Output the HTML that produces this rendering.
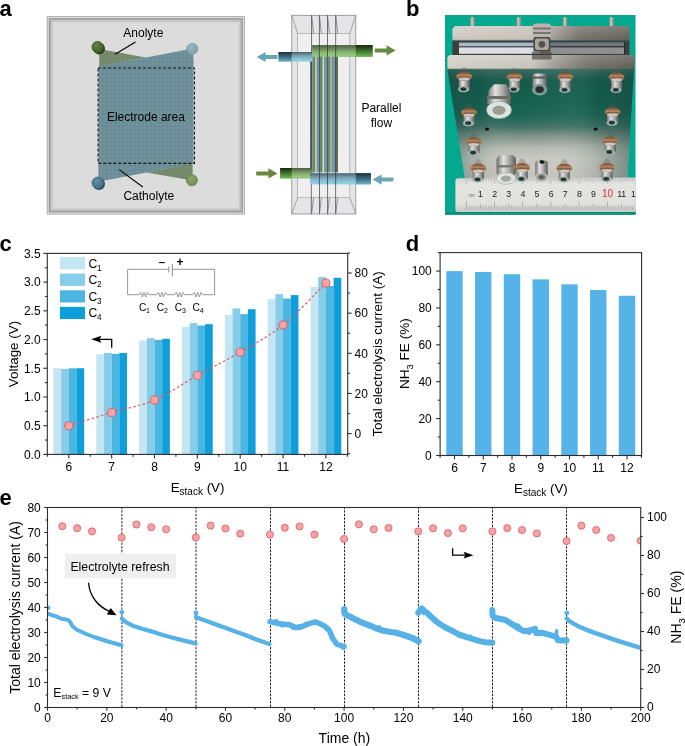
<!DOCTYPE html><html><head><meta charset="utf-8"><style>html,body{margin:0;padding:0;background:#fff;width:685px;height:746px;overflow:hidden}svg{display:block;will-change:transform}text{font-family:"Liberation Sans",sans-serif}</style></head><body>
<svg width="685" height="746" viewBox="0 0 685 746" font-family="Liberation Sans, sans-serif">
<rect width="685" height="746" fill="#fff"/>
<defs>
<pattern id="noise" width="4" height="4" patternUnits="userSpaceOnUse"><rect width="4" height="4" fill="#6d8f9a"/><rect x="0" y="0" width="1" height="1" fill="#7798a2"/><rect x="2" y="1" width="1" height="1" fill="#658893"/><rect x="1" y="3" width="1" height="1" fill="#7596a0"/><rect x="3" y="2" width="1" height="1" fill="#648792"/></pattern>
<pattern id="noiseg" width="4" height="4" patternUnits="userSpaceOnUse"><rect width="4" height="4" fill="#748a6c"/><rect x="0" y="0" width="1" height="1" fill="#7d9375"/><rect x="2" y="1" width="1" height="1" fill="#6c8364"/><rect x="1" y="3" width="1" height="1" fill="#7b9173"/></pattern>
<radialGradient id="cg1" cx="0.4" cy="0.35" r="0.7"><stop offset="0" stop-color="#5f8240"/><stop offset="1" stop-color="#3d5a24"/></radialGradient>
<radialGradient id="cb1" cx="0.4" cy="0.35" r="0.7"><stop offset="0" stop-color="#9bb7c3"/><stop offset="1" stop-color="#7e9eac"/></radialGradient>
<radialGradient id="cb2" cx="0.4" cy="0.35" r="0.7"><stop offset="0" stop-color="#5f8ea2"/><stop offset="1" stop-color="#3f6d82"/></radialGradient>
<radialGradient id="cg2" cx="0.4" cy="0.35" r="0.7"><stop offset="0" stop-color="#8aa66a"/><stop offset="1" stop-color="#6d8a50"/></radialGradient>
<linearGradient id="pg" x1="0" y1="0" x2="0" y2="1"><stop offset="0" stop-color="#4a5e40"/><stop offset="0.5" stop-color="#7fa46c"/><stop offset="0.85" stop-color="#94cc7e"/><stop offset="1" stop-color="#88b874"/></linearGradient>
<linearGradient id="pgd" x1="0" y1="0" x2="0" y2="1"><stop offset="0" stop-color="#18260f"/><stop offset="0.45" stop-color="#3c6a2c"/><stop offset="1" stop-color="#6cbc4e"/></linearGradient>
<linearGradient id="pb" x1="0" y1="0" x2="0" y2="1"><stop offset="0" stop-color="#4a6472"/><stop offset="0.4" stop-color="#7aa2b2"/><stop offset="0.75" stop-color="#8cc6da"/><stop offset="1" stop-color="#92cee2"/></linearGradient>
<linearGradient id="pbd" x1="0" y1="0" x2="0" y2="1"><stop offset="0" stop-color="#1c323c"/><stop offset="0.5" stop-color="#3d6a7c"/><stop offset="1" stop-color="#6fb4cc"/></linearGradient>
<linearGradient id="frm" x1="0" y1="0" x2="1" y2="1"><stop offset="0" stop-color="#c8c8c8"/><stop offset="1" stop-color="#c0c0c0"/></linearGradient>
</defs>
<rect x="46.70" y="16.10" width="198.20" height="198.50" fill="#a9a9a9" />
<rect x="47.70" y="17.10" width="196.20" height="196.50" fill="#e6e6e6" />
<rect x="48.70" y="18.10" width="194.20" height="194.50" fill="#989898" />
<rect x="49.90" y="19.30" width="191.80" height="192.10" fill="#b4b4b4" />
<rect x="51.10" y="20.50" width="189.40" height="189.70" fill="#c8c8c8" />
<rect x="52.50" y="21.90" width="186.60" height="186.90" fill="#d6d6d6" />
<rect x="53.70" y="23.10" width="184.20" height="184.50" fill="#dcdcdc" />
<polygon points="99.2,49.0 146.0,57.6 99.2,67.0" fill="url(#noiseg)"/>
<polygon points="192.6,163.0 146.4,172.4 192.6,180.6" fill="url(#noiseg)"/>
<polygon points="98.6,66.8 192.6,48.4 193.6,60 193.6,163.5 98.4,181.8 98.4,163.5" fill="url(#noise)"/>
<rect x="98.1" y="68.0" width="96.4" height="95.4" fill="none" stroke="#111" stroke-width="1.1" stroke-dasharray="3,2"/>
<circle cx="99.20" cy="48.60" r="5.80" fill="#2f3f22" stroke="none" stroke-width="0.8" />
<circle cx="97.60" cy="47.00" r="5.70" fill="url(#cg1)" stroke="#3a5222" stroke-width="0.6" />
<circle cx="192.30" cy="48.80" r="5.60" fill="url(#cb1)" stroke="#7593a0" stroke-width="0.6" />
<circle cx="99.00" cy="184.00" r="6.00" fill="#2c4a58" stroke="none" stroke-width="0.8" />
<circle cx="97.70" cy="182.80" r="5.80" fill="url(#cb2)" stroke="#3a6275" stroke-width="0.6" />
<circle cx="191.90" cy="180.30" r="5.60" fill="url(#cg2)" stroke="#5f7a46" stroke-width="0.6" />
<line x1="135.50" y1="42.00" x2="115.10" y2="54.20" stroke="#000" stroke-width="1.1" />
<line x1="119.20" y1="169.60" x2="142.80" y2="187.00" stroke="#000" stroke-width="1.1" />
<text x="143.30" y="37.00" font-size="12" text-anchor="middle" font-weight="normal" fill="#000" >Anolyte</text>
<text x="148.80" y="200.00" font-size="12" text-anchor="middle" font-weight="normal" fill="#000" >Catholyte</text>
<text x="145.90" y="121.00" font-size="12" text-anchor="middle" font-weight="normal" fill="#000" >Electrode area</text>
<rect x="291.80" y="15.30" width="64.00" height="198.70" fill="#e5e4e7" stroke="#8a8a8a" stroke-width="0.8"/>
<rect x="297.60" y="33.40" width="52.20" height="164.20" fill="#efefef" stroke="#9a9a9a" stroke-width="0.6"/>
<line x1="291.80" y1="15.30" x2="297.60" y2="33.40" stroke="#8a8a8a" stroke-width="0.7" />
<line x1="355.80" y1="15.30" x2="349.80" y2="33.40" stroke="#8a8a8a" stroke-width="0.7" />
<line x1="291.80" y1="214.00" x2="297.60" y2="197.60" stroke="#8a8a8a" stroke-width="0.7" />
<line x1="355.80" y1="214.00" x2="349.80" y2="197.60" stroke="#8a8a8a" stroke-width="0.7" />
<rect x="310.00" y="56.40" width="2.30" height="116.00" fill="#5b7585" />
<rect x="312.30" y="56.40" width="3.20" height="116.00" fill="#6a8a5e" />
<rect x="315.50" y="56.40" width="1.20" height="116.00" fill="#c4cacb" />
<rect x="316.70" y="56.40" width="2.60" height="116.00" fill="#6f96a8" />
<rect x="319.30" y="56.40" width="3.50" height="116.00" fill="#6a8a5e" />
<rect x="322.80" y="56.40" width="1.20" height="116.00" fill="#d8dcdc" />
<rect x="324.00" y="56.40" width="3.20" height="116.00" fill="#7096a8" />
<rect x="327.20" y="56.40" width="2.90" height="116.00" fill="#6f8f60" />
<rect x="330.10" y="56.40" width="1.80" height="116.00" fill="#a2a6a2" />
<rect x="331.90" y="56.40" width="3.20" height="116.00" fill="#7096a8" />
<rect x="335.10" y="56.40" width="2.90" height="116.00" fill="#5b7252" />
<line x1="311.60" y1="15.30" x2="311.30" y2="214.00" stroke="#3a3a3a" stroke-width="0.7" />
<line x1="319.40" y1="15.30" x2="319.50" y2="214.00" stroke="#3a3a3a" stroke-width="0.7" />
<line x1="327.50" y1="15.30" x2="327.60" y2="214.00" stroke="#3a3a3a" stroke-width="0.7" />
<line x1="335.70" y1="15.30" x2="335.60" y2="214.00" stroke="#3a3a3a" stroke-width="0.7" />
<line x1="311.60" y1="15.30" x2="313.60" y2="33.40" stroke="#555" stroke-width="0.6" />
<line x1="311.60" y1="214.00" x2="313.60" y2="197.60" stroke="#555" stroke-width="0.6" />
<line x1="319.40" y1="15.30" x2="321.40" y2="33.40" stroke="#555" stroke-width="0.6" />
<line x1="319.40" y1="214.00" x2="321.40" y2="197.60" stroke="#555" stroke-width="0.6" />
<line x1="327.50" y1="15.30" x2="329.50" y2="33.40" stroke="#555" stroke-width="0.6" />
<line x1="327.50" y1="214.00" x2="329.50" y2="197.60" stroke="#555" stroke-width="0.6" />
<line x1="335.70" y1="15.30" x2="337.70" y2="33.40" stroke="#555" stroke-width="0.6" />
<line x1="335.70" y1="214.00" x2="337.70" y2="197.60" stroke="#555" stroke-width="0.6" />
<rect x="278.50" y="52.00" width="34.00" height="9.60" fill="url(#pb)" />
<rect x="278.50" y="52.00" width="13.30" height="9.60" fill="url(#pbd)" />
<rect x="312.10" y="45.10" width="60.50" height="11.70" fill="url(#pg)" />
<rect x="355.80" y="45.10" width="16.80" height="11.70" fill="url(#pgd)" />
<line x1="319.40" y1="45.10" x2="319.40" y2="56.80" stroke="#3a3a3a" stroke-width="0.8" />
<line x1="327.50" y1="45.10" x2="327.50" y2="56.80" stroke="#3a3a3a" stroke-width="0.8" />
<line x1="335.70" y1="45.10" x2="335.70" y2="56.80" stroke="#3a3a3a" stroke-width="0.8" />
<rect x="280.20" y="168.00" width="32.00" height="10.40" fill="url(#pg)" />
<rect x="280.20" y="168.00" width="11.60" height="10.40" fill="url(#pgd)" />
<rect x="310.20" y="173.20" width="60.70" height="11.20" fill="url(#pb)" />
<rect x="355.80" y="173.20" width="15.10" height="11.20" fill="url(#pbd)" />
<line x1="319.40" y1="173.20" x2="319.40" y2="184.40" stroke="#3a3a3a" stroke-width="0.8" />
<line x1="327.50" y1="173.20" x2="327.50" y2="184.40" stroke="#3a3a3a" stroke-width="0.8" />
<line x1="335.70" y1="173.20" x2="335.70" y2="184.40" stroke="#3a3a3a" stroke-width="0.8" />
<polygon points="277.40,55.00 265.60,55.00 265.60,51.90 256.60,57.00 265.60,62.10 265.60,59.00 277.40,59.00" fill="#6ba4b6"/>
<polygon points="374.80,48.40 386.60,48.40 386.60,45.30 395.60,50.40 386.60,55.50 386.60,52.40 374.80,52.40" fill="#66873f"/>
<polygon points="256.20,171.40 268.40,171.40 268.40,168.30 277.40,173.40 268.40,178.50 268.40,175.40 256.20,175.40" fill="#66873f"/>
<polygon points="393.40,177.60 381.60,177.60 381.60,174.50 372.60,179.60 381.60,184.70 381.60,181.60 393.40,181.60" fill="#6ba4b6"/>
<text x="381.40" y="112.00" font-size="12" text-anchor="middle" font-weight="normal" fill="#000" >Parallel</text>
<text x="381.40" y="126.70" font-size="12" text-anchor="middle" font-weight="normal" fill="#000" >flow</text>
<defs>
<clipPath id="phc"><rect x="445" y="15" width="190.7" height="199.8"/></clipPath>
<linearGradient id="topblk" x1="0" y1="0" x2="1" y2="0"><stop offset="0" stop-color="#cfcbc3"/><stop offset="0.45" stop-color="#c6c2ba"/><stop offset="0.55" stop-color="#a8a49d"/><stop offset="0.72" stop-color="#76726c"/><stop offset="1" stop-color="#66625c"/></linearGradient>
<linearGradient id="shadeV" x1="0" y1="0" x2="0" y2="1"><stop offset="0" stop-color="#fff" stop-opacity="0.18"/><stop offset="0.8" stop-color="#fff" stop-opacity="0"/><stop offset="1" stop-color="#000" stop-opacity="0.25"/></linearGradient>
<linearGradient id="frontblk" x1="0" y1="0" x2="1" y2="0"><stop offset="0" stop-color="#d3d0c8"/><stop offset="0.45" stop-color="#c9c5bd"/><stop offset="0.58" stop-color="#9f9b94"/><stop offset="0.75" stop-color="#77736d"/><stop offset="1" stop-color="#625e58"/></linearGradient>
<linearGradient id="plateV" x1="0" y1="0" x2="0" y2="1"><stop offset="0" stop-color="#3a6a5e"/><stop offset="0.1" stop-color="#14594a"/><stop offset="0.28" stop-color="#125e4d"/><stop offset="0.42" stop-color="#1b6453"/><stop offset="0.52" stop-color="#3d6f63"/><stop offset="0.62" stop-color="#84958c"/><stop offset="0.72" stop-color="#b6bbb3"/><stop offset="0.82" stop-color="#c8c9c1"/><stop offset="1" stop-color="#c4c2ba"/></linearGradient>
<linearGradient id="plateH" x1="0" y1="0" x2="1" y2="0"><stop offset="0" stop-color="#1e4a42" stop-opacity="0.45"/><stop offset="0.18" stop-color="#1e4a42" stop-opacity="0.12"/><stop offset="0.35" stop-color="#ffffff" stop-opacity="0.0"/><stop offset="0.6" stop-color="#ffffff" stop-opacity="0.04"/><stop offset="0.8" stop-color="#1e4a42" stop-opacity="0.15"/><stop offset="1" stop-color="#1e4a42" stop-opacity="0.5"/></linearGradient>
<linearGradient id="ruler" x1="0" y1="0" x2="0" y2="1"><stop offset="0" stop-color="#d2d2cf"/><stop offset="0.2" stop-color="#e4e4e1"/><stop offset="0.75" stop-color="#e0e0dd"/><stop offset="1" stop-color="#c8c8c4"/></linearGradient>
<linearGradient id="boltb" x1="0" y1="0" x2="1" y2="0"><stop offset="0" stop-color="#6e6e6c"/><stop offset="0.35" stop-color="#e2e2e0"/><stop offset="0.6" stop-color="#b4b4b2"/><stop offset="1" stop-color="#5a5a58"/></linearGradient>
<linearGradient id="ringg" x1="0" y1="0" x2="0" y2="1"><stop offset="0" stop-color="#6e4a32"/><stop offset="0.4" stop-color="#b8845f"/><stop offset="1" stop-color="#8c5e40"/></linearGradient>
<radialGradient id="hexb" cx="0.5" cy="0.45" r="0.6"><stop offset="0" stop-color="#3a3a38"/><stop offset="0.45" stop-color="#8a8a88"/><stop offset="0.8" stop-color="#d6d6d4"/><stop offset="1" stop-color="#7a7a78"/></radialGradient>
</defs>
<g clip-path="url(#phc)">
<rect x="445.00" y="15.00" width="190.70" height="199.80" fill="#04a88e" />
<rect x="470.20" y="17.20" width="4.40" height="10.00" fill="#9c988f" />
<rect x="471.40" y="17.20" width="1.40" height="10.00" fill="#d4d0c8" />
<rect x="516.50" y="17.20" width="4.40" height="10.00" fill="#9c988f" />
<rect x="517.70" y="17.20" width="1.40" height="10.00" fill="#d4d0c8" />
<rect x="562.80" y="17.20" width="4.40" height="10.00" fill="#9c988f" />
<rect x="564.00" y="17.20" width="1.40" height="10.00" fill="#d4d0c8" />
<rect x="609.30" y="17.20" width="4.40" height="10.00" fill="#9c988f" />
<rect x="610.50" y="17.20" width="1.40" height="10.00" fill="#d4d0c8" />
<polygon points="455,26 627,26 629.6,29 629.6,40.6 452.4,40.6 452.4,29" fill="url(#topblk)"/>
<polygon points="455,26 627,26 629.6,29 629.6,40.6 452.4,40.6 452.4,29" fill="url(#shadeV)"/>
<rect x="452.40" y="40.60" width="177.00" height="14.60" fill="#3e3e3c" />
<rect x="459.00" y="42.60" width="165.00" height="3.60" fill="#a8b8c6" />
<rect x="459.00" y="47.40" width="165.00" height="6.40" fill="#dcdedf" />
<rect x="540.00" y="42.60" width="85.00" height="11.20" fill="#000" opacity="0.35"/>
<polygon points="449.5,55.1 632.5,55.1 634.3,57.5 634.3,69.2 447.4,69.2 447.4,57.5" fill="url(#frontblk)"/>
<polygon points="449.5,55.1 632.5,55.1 634.3,57.5 634.3,69.2 447.4,69.2 447.4,57.5" fill="url(#shadeV)"/>
<polygon points="447.4,69.2 634.0,69.2 627.2,179 465.0,179" fill="url(#plateV)"/>
<polygon points="447.4,69.2 634.0,69.2 627.2,179 465.0,179" fill="url(#plateH)"/>
<rect x="532.40" y="23.50" width="19.00" height="14.00" fill="#b9b6b0" rx="4"/>
<rect x="533.00" y="27.50" width="18.00" height="2.00" fill="#77746e" />
<rect x="533.00" y="32.00" width="18.00" height="2.00" fill="#77746e" />
<rect x="533.40" y="37.00" width="17.00" height="14.50" fill="#4a4845" rx="2"/>
<rect x="535.00" y="38.60" width="13.80" height="11.40" fill="#a8a5a0" rx="2"/>
<circle cx="541.90" cy="44.30" r="3.40" fill="#55524e" stroke="none" stroke-width="0.8" />
<rect x="532.00" y="51.50" width="19.50" height="8.00" fill="#3a3836" opacity="0.6"/>
<ellipse cx="487.0" cy="129.1" rx="2.1" ry="1.6" fill="#101010"/>
<ellipse cx="595.6" cy="129.1" rx="2.1" ry="1.6" fill="#101010"/>
<ellipse cx="541.2" cy="161.4" rx="2.1" ry="1.6" fill="#101010"/>
<polygon points="462.40,67.30 466.00,67.30 469.70,75.30 458.70,75.30" fill="#6a5a48" opacity="0.3"/>
<rect x="458.60" y="77.30" width="11.2" height="12.00" fill="url(#boltb)"/>
<ellipse cx="463.60" cy="89.30" rx="5.6" ry="3.0" fill="#a8aeac"/>
<ellipse cx="463.40" cy="89.10" rx="3.0" ry="1.9" fill="#1c3a36"/>
<ellipse cx="464.20" cy="76.30" rx="7.9" ry="4.4" fill="url(#ringg)"/>
<ellipse cx="464.20" cy="76.90" rx="7.4" ry="0.7" fill="#6a4a30" opacity="0.6"/>
<ellipse cx="464.20" cy="79.10" rx="5.4" ry="1.5" fill="#c8c8c6"/>
<polygon points="512.70,68.00 516.30,68.00 520.00,76.00 509.00,76.00" fill="#6a5a48" opacity="0.3"/>
<rect x="508.90" y="78.00" width="11.2" height="11.50" fill="url(#boltb)"/>
<ellipse cx="513.90" cy="89.50" rx="5.6" ry="3.0" fill="#a8aeac"/>
<ellipse cx="513.70" cy="89.30" rx="3.0" ry="1.9" fill="#1c3a36"/>
<ellipse cx="514.50" cy="77.00" rx="7.9" ry="4.4" fill="url(#ringg)"/>
<ellipse cx="514.50" cy="77.60" rx="7.4" ry="0.7" fill="#6a4a30" opacity="0.6"/>
<ellipse cx="514.50" cy="79.80" rx="5.4" ry="1.5" fill="#c8c8c6"/>
<polygon points="563.50,68.00 567.10,68.00 570.80,76.00 559.80,76.00" fill="#6a5a48" opacity="0.3"/>
<rect x="559.70" y="78.00" width="11.2" height="12.00" fill="url(#boltb)"/>
<ellipse cx="564.70" cy="90.00" rx="5.6" ry="3.0" fill="#a8aeac"/>
<ellipse cx="564.50" cy="89.80" rx="3.0" ry="1.9" fill="#1c3a36"/>
<ellipse cx="565.30" cy="77.00" rx="7.9" ry="4.4" fill="url(#ringg)"/>
<ellipse cx="565.30" cy="77.60" rx="7.4" ry="0.7" fill="#6a4a30" opacity="0.6"/>
<ellipse cx="565.30" cy="79.80" rx="5.4" ry="1.5" fill="#c8c8c6"/>
<polygon points="614.80,68.00 618.40,68.00 622.10,76.00 611.10,76.00" fill="#6a5a48" opacity="0.3"/>
<rect x="611.00" y="78.00" width="11.2" height="12.00" fill="url(#boltb)"/>
<ellipse cx="616.00" cy="90.00" rx="5.6" ry="3.0" fill="#a8aeac"/>
<ellipse cx="615.80" cy="89.80" rx="3.0" ry="1.9" fill="#1c3a36"/>
<ellipse cx="616.60" cy="77.00" rx="7.9" ry="4.4" fill="url(#ringg)"/>
<ellipse cx="616.60" cy="77.60" rx="7.4" ry="0.7" fill="#6a4a30" opacity="0.6"/>
<ellipse cx="616.60" cy="79.80" rx="5.4" ry="1.5" fill="#c8c8c6"/>
<polygon points="467.20,103.50 470.80,103.50 474.50,111.50 463.50,111.50" fill="#6a5a48" opacity="0.3"/>
<rect x="463.40" y="113.50" width="11.2" height="9.80" fill="url(#boltb)"/>
<ellipse cx="468.40" cy="123.30" rx="5.6" ry="3.0" fill="#a8aeac"/>
<ellipse cx="468.20" cy="123.10" rx="3.0" ry="1.9" fill="#1c3a36"/>
<ellipse cx="469.00" cy="112.50" rx="7.9" ry="4.4" fill="url(#ringg)"/>
<ellipse cx="469.00" cy="113.10" rx="7.4" ry="0.7" fill="#6a4a30" opacity="0.6"/>
<ellipse cx="469.00" cy="115.30" rx="5.4" ry="1.5" fill="#c8c8c6"/>
<polygon points="610.80,103.00 614.40,103.00 618.10,111.00 607.10,111.00" fill="#6a5a48" opacity="0.3"/>
<rect x="607.00" y="113.00" width="11.2" height="9.80" fill="url(#boltb)"/>
<ellipse cx="612.00" cy="122.80" rx="5.6" ry="3.0" fill="#a8aeac"/>
<ellipse cx="611.80" cy="122.60" rx="3.0" ry="1.9" fill="#1c3a36"/>
<ellipse cx="612.60" cy="112.00" rx="7.9" ry="4.4" fill="url(#ringg)"/>
<ellipse cx="612.60" cy="112.60" rx="7.4" ry="0.7" fill="#6a4a30" opacity="0.6"/>
<ellipse cx="612.60" cy="114.80" rx="5.4" ry="1.5" fill="#c8c8c6"/>
<polygon points="472.10,132.80 475.70,132.80 479.40,140.80 468.40,140.80" fill="#6a5a48" opacity="0.3"/>
<rect x="468.30" y="142.80" width="11.2" height="10.00" fill="url(#boltb)"/>
<ellipse cx="473.30" cy="152.80" rx="5.6" ry="3.0" fill="#a8aeac"/>
<ellipse cx="473.10" cy="152.60" rx="3.0" ry="1.9" fill="#1c3a36"/>
<ellipse cx="473.90" cy="141.80" rx="7.9" ry="4.4" fill="url(#ringg)"/>
<ellipse cx="473.90" cy="142.40" rx="7.4" ry="0.7" fill="#6a4a30" opacity="0.6"/>
<ellipse cx="473.90" cy="144.60" rx="5.4" ry="1.5" fill="#c8c8c6"/>
<polygon points="608.40,132.20 612.00,132.20 615.70,140.20 604.70,140.20" fill="#6a5a48" opacity="0.3"/>
<rect x="604.60" y="142.20" width="11.2" height="10.00" fill="url(#boltb)"/>
<ellipse cx="609.60" cy="152.20" rx="5.6" ry="3.0" fill="#a8aeac"/>
<ellipse cx="609.40" cy="152.00" rx="3.0" ry="1.9" fill="#1c3a36"/>
<ellipse cx="610.20" cy="141.20" rx="7.9" ry="4.4" fill="url(#ringg)"/>
<ellipse cx="610.20" cy="141.80" rx="7.4" ry="0.7" fill="#6a4a30" opacity="0.6"/>
<ellipse cx="610.20" cy="144.00" rx="5.4" ry="1.5" fill="#c8c8c6"/>
<rect x="532.40" y="73.60" width="14.4" height="15" rx="3" fill="url(#boltb)"/>
<rect x="532.40" y="76.60" width="14.4" height="2" fill="#5a5a56"/>
<ellipse cx="539.6" cy="89.6" rx="7.6" ry="5.8" fill="#6fa89c"/>
<ellipse cx="539.6" cy="89.3" rx="6.4" ry="4.8" fill="#8c8e8a"/>
<ellipse cx="539.6" cy="89.6" rx="4.2" ry="3.4" fill="#2a2c2a"/>
<polygon points="489,90 494,84.3 506,84.3 510,90 511,104 487,104" fill="url(#boltb)"/>
<rect x="487" y="96" width="24" height="3" fill="#6d6c68"/>
<ellipse cx="499.0" cy="110.0" rx="12.4" ry="8.6" fill="#dde3e1" stroke="#a8b0ae" stroke-width="0.6"/>
<ellipse cx="499.0" cy="110.3" rx="6.6" ry="4.6" fill="#9a9c90"/>
<path d="M458,178.2 L636,177.6 L636,212.0 L458,212.0 Q455.4,212.0 455.4,209.4 L455.4,181 Q455.4,178.2 458,178.2 Z" fill="url(#ruler)"/>
<line x1="466.30" y1="201.60" x2="466.30" y2="209.60" stroke="#8a8a88" stroke-width="0.55" />
<line x1="466.30" y1="178.40" x2="466.30" y2="184.00" stroke="#9a9a98" stroke-width="0.5" />
<line x1="469.12" y1="206.00" x2="469.12" y2="209.60" stroke="#8a8a88" stroke-width="0.55" />
<line x1="469.12" y1="178.40" x2="469.12" y2="180.92" stroke="#9a9a98" stroke-width="0.5" />
<line x1="471.94" y1="206.00" x2="471.94" y2="209.60" stroke="#8a8a88" stroke-width="0.55" />
<line x1="471.94" y1="178.40" x2="471.94" y2="180.92" stroke="#9a9a98" stroke-width="0.5" />
<line x1="474.76" y1="206.00" x2="474.76" y2="209.60" stroke="#8a8a88" stroke-width="0.55" />
<line x1="474.76" y1="178.40" x2="474.76" y2="180.92" stroke="#9a9a98" stroke-width="0.5" />
<line x1="477.58" y1="206.00" x2="477.58" y2="209.60" stroke="#8a8a88" stroke-width="0.55" />
<line x1="477.58" y1="178.40" x2="477.58" y2="180.92" stroke="#9a9a98" stroke-width="0.5" />
<line x1="480.40" y1="204.10" x2="480.40" y2="209.60" stroke="#8a8a88" stroke-width="0.55" />
<line x1="480.40" y1="178.40" x2="480.40" y2="182.25" stroke="#9a9a98" stroke-width="0.5" />
<line x1="483.22" y1="206.00" x2="483.22" y2="209.60" stroke="#8a8a88" stroke-width="0.55" />
<line x1="483.22" y1="178.40" x2="483.22" y2="180.92" stroke="#9a9a98" stroke-width="0.5" />
<line x1="486.04" y1="206.00" x2="486.04" y2="209.60" stroke="#8a8a88" stroke-width="0.55" />
<line x1="486.04" y1="178.40" x2="486.04" y2="180.92" stroke="#9a9a98" stroke-width="0.5" />
<line x1="488.86" y1="206.00" x2="488.86" y2="209.60" stroke="#8a8a88" stroke-width="0.55" />
<line x1="488.86" y1="178.40" x2="488.86" y2="180.92" stroke="#9a9a98" stroke-width="0.5" />
<line x1="491.68" y1="206.00" x2="491.68" y2="209.60" stroke="#8a8a88" stroke-width="0.55" />
<line x1="491.68" y1="178.40" x2="491.68" y2="180.92" stroke="#9a9a98" stroke-width="0.5" />
<line x1="494.50" y1="201.60" x2="494.50" y2="209.60" stroke="#8a8a88" stroke-width="0.55" />
<line x1="494.50" y1="178.40" x2="494.50" y2="184.00" stroke="#9a9a98" stroke-width="0.5" />
<line x1="497.32" y1="206.00" x2="497.32" y2="209.60" stroke="#8a8a88" stroke-width="0.55" />
<line x1="497.32" y1="178.40" x2="497.32" y2="180.92" stroke="#9a9a98" stroke-width="0.5" />
<line x1="500.14" y1="206.00" x2="500.14" y2="209.60" stroke="#8a8a88" stroke-width="0.55" />
<line x1="500.14" y1="178.40" x2="500.14" y2="180.92" stroke="#9a9a98" stroke-width="0.5" />
<line x1="502.96" y1="206.00" x2="502.96" y2="209.60" stroke="#8a8a88" stroke-width="0.55" />
<line x1="502.96" y1="178.40" x2="502.96" y2="180.92" stroke="#9a9a98" stroke-width="0.5" />
<line x1="505.78" y1="206.00" x2="505.78" y2="209.60" stroke="#8a8a88" stroke-width="0.55" />
<line x1="505.78" y1="178.40" x2="505.78" y2="180.92" stroke="#9a9a98" stroke-width="0.5" />
<line x1="508.60" y1="204.10" x2="508.60" y2="209.60" stroke="#8a8a88" stroke-width="0.55" />
<line x1="508.60" y1="178.40" x2="508.60" y2="182.25" stroke="#9a9a98" stroke-width="0.5" />
<line x1="511.42" y1="206.00" x2="511.42" y2="209.60" stroke="#8a8a88" stroke-width="0.55" />
<line x1="511.42" y1="178.40" x2="511.42" y2="180.92" stroke="#9a9a98" stroke-width="0.5" />
<line x1="514.24" y1="206.00" x2="514.24" y2="209.60" stroke="#8a8a88" stroke-width="0.55" />
<line x1="514.24" y1="178.40" x2="514.24" y2="180.92" stroke="#9a9a98" stroke-width="0.5" />
<line x1="517.06" y1="206.00" x2="517.06" y2="209.60" stroke="#8a8a88" stroke-width="0.55" />
<line x1="517.06" y1="178.40" x2="517.06" y2="180.92" stroke="#9a9a98" stroke-width="0.5" />
<line x1="519.88" y1="206.00" x2="519.88" y2="209.60" stroke="#8a8a88" stroke-width="0.55" />
<line x1="519.88" y1="178.40" x2="519.88" y2="180.92" stroke="#9a9a98" stroke-width="0.5" />
<line x1="522.70" y1="201.60" x2="522.70" y2="209.60" stroke="#8a8a88" stroke-width="0.55" />
<line x1="522.70" y1="178.40" x2="522.70" y2="184.00" stroke="#9a9a98" stroke-width="0.5" />
<line x1="525.52" y1="206.00" x2="525.52" y2="209.60" stroke="#8a8a88" stroke-width="0.55" />
<line x1="525.52" y1="178.40" x2="525.52" y2="180.92" stroke="#9a9a98" stroke-width="0.5" />
<line x1="528.34" y1="206.00" x2="528.34" y2="209.60" stroke="#8a8a88" stroke-width="0.55" />
<line x1="528.34" y1="178.40" x2="528.34" y2="180.92" stroke="#9a9a98" stroke-width="0.5" />
<line x1="531.16" y1="206.00" x2="531.16" y2="209.60" stroke="#8a8a88" stroke-width="0.55" />
<line x1="531.16" y1="178.40" x2="531.16" y2="180.92" stroke="#9a9a98" stroke-width="0.5" />
<line x1="533.98" y1="206.00" x2="533.98" y2="209.60" stroke="#8a8a88" stroke-width="0.55" />
<line x1="533.98" y1="178.40" x2="533.98" y2="180.92" stroke="#9a9a98" stroke-width="0.5" />
<line x1="536.80" y1="204.10" x2="536.80" y2="209.60" stroke="#8a8a88" stroke-width="0.55" />
<line x1="536.80" y1="178.40" x2="536.80" y2="182.25" stroke="#9a9a98" stroke-width="0.5" />
<line x1="539.62" y1="206.00" x2="539.62" y2="209.60" stroke="#8a8a88" stroke-width="0.55" />
<line x1="539.62" y1="178.40" x2="539.62" y2="180.92" stroke="#9a9a98" stroke-width="0.5" />
<line x1="542.44" y1="206.00" x2="542.44" y2="209.60" stroke="#8a8a88" stroke-width="0.55" />
<line x1="542.44" y1="178.40" x2="542.44" y2="180.92" stroke="#9a9a98" stroke-width="0.5" />
<line x1="545.26" y1="206.00" x2="545.26" y2="209.60" stroke="#8a8a88" stroke-width="0.55" />
<line x1="545.26" y1="178.40" x2="545.26" y2="180.92" stroke="#9a9a98" stroke-width="0.5" />
<line x1="548.08" y1="206.00" x2="548.08" y2="209.60" stroke="#8a8a88" stroke-width="0.55" />
<line x1="548.08" y1="178.40" x2="548.08" y2="180.92" stroke="#9a9a98" stroke-width="0.5" />
<line x1="550.90" y1="201.60" x2="550.90" y2="209.60" stroke="#8a8a88" stroke-width="0.55" />
<line x1="550.90" y1="178.40" x2="550.90" y2="184.00" stroke="#9a9a98" stroke-width="0.5" />
<line x1="553.72" y1="206.00" x2="553.72" y2="209.60" stroke="#8a8a88" stroke-width="0.55" />
<line x1="553.72" y1="178.40" x2="553.72" y2="180.92" stroke="#9a9a98" stroke-width="0.5" />
<line x1="556.54" y1="206.00" x2="556.54" y2="209.60" stroke="#8a8a88" stroke-width="0.55" />
<line x1="556.54" y1="178.40" x2="556.54" y2="180.92" stroke="#9a9a98" stroke-width="0.5" />
<line x1="559.36" y1="206.00" x2="559.36" y2="209.60" stroke="#8a8a88" stroke-width="0.55" />
<line x1="559.36" y1="178.40" x2="559.36" y2="180.92" stroke="#9a9a98" stroke-width="0.5" />
<line x1="562.18" y1="206.00" x2="562.18" y2="209.60" stroke="#8a8a88" stroke-width="0.55" />
<line x1="562.18" y1="178.40" x2="562.18" y2="180.92" stroke="#9a9a98" stroke-width="0.5" />
<line x1="565.00" y1="204.10" x2="565.00" y2="209.60" stroke="#8a8a88" stroke-width="0.55" />
<line x1="565.00" y1="178.40" x2="565.00" y2="182.25" stroke="#9a9a98" stroke-width="0.5" />
<line x1="567.82" y1="206.00" x2="567.82" y2="209.60" stroke="#8a8a88" stroke-width="0.55" />
<line x1="567.82" y1="178.40" x2="567.82" y2="180.92" stroke="#9a9a98" stroke-width="0.5" />
<line x1="570.64" y1="206.00" x2="570.64" y2="209.60" stroke="#8a8a88" stroke-width="0.55" />
<line x1="570.64" y1="178.40" x2="570.64" y2="180.92" stroke="#9a9a98" stroke-width="0.5" />
<line x1="573.46" y1="206.00" x2="573.46" y2="209.60" stroke="#8a8a88" stroke-width="0.55" />
<line x1="573.46" y1="178.40" x2="573.46" y2="180.92" stroke="#9a9a98" stroke-width="0.5" />
<line x1="576.28" y1="206.00" x2="576.28" y2="209.60" stroke="#8a8a88" stroke-width="0.55" />
<line x1="576.28" y1="178.40" x2="576.28" y2="180.92" stroke="#9a9a98" stroke-width="0.5" />
<line x1="579.10" y1="201.60" x2="579.10" y2="209.60" stroke="#8a8a88" stroke-width="0.55" />
<line x1="579.10" y1="178.40" x2="579.10" y2="184.00" stroke="#9a9a98" stroke-width="0.5" />
<line x1="581.92" y1="206.00" x2="581.92" y2="209.60" stroke="#8a8a88" stroke-width="0.55" />
<line x1="581.92" y1="178.40" x2="581.92" y2="180.92" stroke="#9a9a98" stroke-width="0.5" />
<line x1="584.74" y1="206.00" x2="584.74" y2="209.60" stroke="#8a8a88" stroke-width="0.55" />
<line x1="584.74" y1="178.40" x2="584.74" y2="180.92" stroke="#9a9a98" stroke-width="0.5" />
<line x1="587.56" y1="206.00" x2="587.56" y2="209.60" stroke="#8a8a88" stroke-width="0.55" />
<line x1="587.56" y1="178.40" x2="587.56" y2="180.92" stroke="#9a9a98" stroke-width="0.5" />
<line x1="590.38" y1="206.00" x2="590.38" y2="209.60" stroke="#8a8a88" stroke-width="0.55" />
<line x1="590.38" y1="178.40" x2="590.38" y2="180.92" stroke="#9a9a98" stroke-width="0.5" />
<line x1="593.20" y1="204.10" x2="593.20" y2="209.60" stroke="#8a8a88" stroke-width="0.55" />
<line x1="593.20" y1="178.40" x2="593.20" y2="182.25" stroke="#9a9a98" stroke-width="0.5" />
<line x1="596.02" y1="206.00" x2="596.02" y2="209.60" stroke="#8a8a88" stroke-width="0.55" />
<line x1="596.02" y1="178.40" x2="596.02" y2="180.92" stroke="#9a9a98" stroke-width="0.5" />
<line x1="598.84" y1="206.00" x2="598.84" y2="209.60" stroke="#8a8a88" stroke-width="0.55" />
<line x1="598.84" y1="178.40" x2="598.84" y2="180.92" stroke="#9a9a98" stroke-width="0.5" />
<line x1="601.66" y1="206.00" x2="601.66" y2="209.60" stroke="#8a8a88" stroke-width="0.55" />
<line x1="601.66" y1="178.40" x2="601.66" y2="180.92" stroke="#9a9a98" stroke-width="0.5" />
<line x1="604.48" y1="206.00" x2="604.48" y2="209.60" stroke="#8a8a88" stroke-width="0.55" />
<line x1="604.48" y1="178.40" x2="604.48" y2="180.92" stroke="#9a9a98" stroke-width="0.5" />
<line x1="607.30" y1="201.60" x2="607.30" y2="209.60" stroke="#8a8a88" stroke-width="0.55" />
<line x1="607.30" y1="178.40" x2="607.30" y2="184.00" stroke="#9a9a98" stroke-width="0.5" />
<line x1="610.12" y1="206.00" x2="610.12" y2="209.60" stroke="#8a8a88" stroke-width="0.55" />
<line x1="610.12" y1="178.40" x2="610.12" y2="180.92" stroke="#9a9a98" stroke-width="0.5" />
<line x1="612.94" y1="206.00" x2="612.94" y2="209.60" stroke="#8a8a88" stroke-width="0.55" />
<line x1="612.94" y1="178.40" x2="612.94" y2="180.92" stroke="#9a9a98" stroke-width="0.5" />
<line x1="615.76" y1="206.00" x2="615.76" y2="209.60" stroke="#8a8a88" stroke-width="0.55" />
<line x1="615.76" y1="178.40" x2="615.76" y2="180.92" stroke="#9a9a98" stroke-width="0.5" />
<line x1="618.58" y1="206.00" x2="618.58" y2="209.60" stroke="#8a8a88" stroke-width="0.55" />
<line x1="618.58" y1="178.40" x2="618.58" y2="180.92" stroke="#9a9a98" stroke-width="0.5" />
<line x1="621.40" y1="204.10" x2="621.40" y2="209.60" stroke="#8a8a88" stroke-width="0.55" />
<line x1="621.40" y1="178.40" x2="621.40" y2="182.25" stroke="#9a9a98" stroke-width="0.5" />
<line x1="624.22" y1="206.00" x2="624.22" y2="209.60" stroke="#8a8a88" stroke-width="0.55" />
<line x1="624.22" y1="178.40" x2="624.22" y2="180.92" stroke="#9a9a98" stroke-width="0.5" />
<line x1="627.04" y1="206.00" x2="627.04" y2="209.60" stroke="#8a8a88" stroke-width="0.55" />
<line x1="627.04" y1="178.40" x2="627.04" y2="180.92" stroke="#9a9a98" stroke-width="0.5" />
<line x1="629.86" y1="206.00" x2="629.86" y2="209.60" stroke="#8a8a88" stroke-width="0.55" />
<line x1="629.86" y1="178.40" x2="629.86" y2="180.92" stroke="#9a9a98" stroke-width="0.5" />
<line x1="632.68" y1="206.00" x2="632.68" y2="209.60" stroke="#8a8a88" stroke-width="0.55" />
<line x1="632.68" y1="178.40" x2="632.68" y2="180.92" stroke="#9a9a98" stroke-width="0.5" />
<text x="468.5" y="197.0" font-size="4.6" fill="#666">cm</text>
<text x="480.50" y="197.4" font-size="8.8" text-anchor="middle" fill="#1a1a1a">1</text>
<text x="494.62" y="197.4" font-size="8.8" text-anchor="middle" fill="#1a1a1a">2</text>
<text x="508.74" y="197.4" font-size="8.8" text-anchor="middle" fill="#1a1a1a">3</text>
<text x="522.86" y="197.4" font-size="8.8" text-anchor="middle" fill="#1a1a1a">4</text>
<text x="536.98" y="197.4" font-size="8.8" text-anchor="middle" fill="#1a1a1a">5</text>
<text x="551.10" y="197.4" font-size="8.8" text-anchor="middle" fill="#1a1a1a">6</text>
<text x="565.22" y="197.4" font-size="8.8" text-anchor="middle" fill="#1a1a1a">7</text>
<text x="579.34" y="197.4" font-size="8.8" text-anchor="middle" fill="#1a1a1a">8</text>
<text x="593.46" y="197.4" font-size="8.8" text-anchor="middle" fill="#1a1a1a">9</text>
<text x="607.58" y="197.4" font-size="10.0" text-anchor="middle" fill="#e52a3c">10</text>
<text x="621.70" y="197.4" font-size="8.8" text-anchor="middle" fill="#1a1a1a">11</text>
<text x="635.82" y="197.4" font-size="8.8" text-anchor="middle" fill="#1a1a1a">12</text>
<rect x="496.5" y="155" width="19.5" height="22" rx="5" fill="url(#boltb)"/>
<rect x="496.5" y="165" width="19.5" height="2.5" fill="#7d7c78"/>
<ellipse cx="506.0" cy="178.4" rx="9.8" ry="5.9" fill="#dde3e1" stroke="#9aa6a2" stroke-width="0.6"/>
<ellipse cx="506.0" cy="178.6" rx="5.2" ry="3.0" fill="#a6a89c"/>
<polygon points="476.50,159.20 480.10,159.20 483.80,167.20 472.80,167.20" fill="#6a5a48" opacity="0.3"/>
<rect x="472.70" y="169.20" width="11.2" height="10.30" fill="url(#boltb)"/>
<ellipse cx="477.70" cy="179.50" rx="5.6" ry="3.0" fill="#a8aeac"/>
<ellipse cx="477.50" cy="179.30" rx="3.0" ry="1.9" fill="#1c3a36"/>
<ellipse cx="478.30" cy="168.20" rx="7.9" ry="4.4" fill="url(#ringg)"/>
<ellipse cx="478.30" cy="168.80" rx="7.4" ry="0.7" fill="#6a4a30" opacity="0.6"/>
<ellipse cx="478.30" cy="171.00" rx="5.4" ry="1.5" fill="#c8c8c6"/>
<polygon points="520.40,158.70 524.00,158.70 527.70,166.70 516.70,166.70" fill="#6a5a48" opacity="0.3"/>
<rect x="516.60" y="168.70" width="11.2" height="10.30" fill="url(#boltb)"/>
<ellipse cx="521.60" cy="179.00" rx="5.6" ry="3.0" fill="#a8aeac"/>
<ellipse cx="521.40" cy="178.80" rx="3.0" ry="1.9" fill="#1c3a36"/>
<ellipse cx="522.20" cy="167.70" rx="7.9" ry="4.4" fill="url(#ringg)"/>
<ellipse cx="522.20" cy="168.30" rx="7.4" ry="0.7" fill="#6a4a30" opacity="0.6"/>
<ellipse cx="522.20" cy="170.50" rx="5.4" ry="1.5" fill="#c8c8c6"/>
<polygon points="562.50,159.20 566.10,159.20 569.80,167.20 558.80,167.20" fill="#6a5a48" opacity="0.3"/>
<rect x="558.70" y="169.20" width="11.2" height="10.30" fill="url(#boltb)"/>
<ellipse cx="563.70" cy="179.50" rx="5.6" ry="3.0" fill="#a8aeac"/>
<ellipse cx="563.50" cy="179.30" rx="3.0" ry="1.9" fill="#1c3a36"/>
<ellipse cx="564.30" cy="168.20" rx="7.9" ry="4.4" fill="url(#ringg)"/>
<ellipse cx="564.30" cy="168.80" rx="7.4" ry="0.7" fill="#6a4a30" opacity="0.6"/>
<ellipse cx="564.30" cy="171.00" rx="5.4" ry="1.5" fill="#c8c8c6"/>
<polygon points="605.20,158.70 608.80,158.70 612.50,166.70 601.50,166.70" fill="#6a5a48" opacity="0.3"/>
<rect x="601.40" y="168.70" width="11.2" height="10.30" fill="url(#boltb)"/>
<ellipse cx="606.40" cy="179.00" rx="5.6" ry="3.0" fill="#a8aeac"/>
<ellipse cx="606.20" cy="178.80" rx="3.0" ry="1.9" fill="#1c3a36"/>
<ellipse cx="607.00" cy="167.70" rx="7.9" ry="4.4" fill="url(#ringg)"/>
<ellipse cx="607.00" cy="168.30" rx="7.4" ry="0.7" fill="#6a4a30" opacity="0.6"/>
<ellipse cx="607.00" cy="170.50" rx="5.4" ry="1.5" fill="#c8c8c6"/>
<rect x="535.30" y="160.60" width="12.4" height="17" rx="3" fill="url(#boltb)"/>
<ellipse cx="542.00" cy="162.10" rx="2.6" ry="1.8" fill="#1a1a1a"/>
<ellipse cx="541.5" cy="177.6" rx="6.6" ry="4.6" fill="url(#hexb)"/>
<rect x="445.00" y="212.00" width="191.00" height="3.00" fill="#0c8f78" />
</g>
<rect x="53.46" y="368.25" width="7.72" height="86.14" fill="#c4e6f2" />
<rect x="61.13" y="369.00" width="7.72" height="85.40" fill="#86cdea" />
<rect x="68.80" y="368.25" width="7.72" height="86.14" fill="#4cb6e3" />
<rect x="76.47" y="368.25" width="7.72" height="86.14" fill="#0e9fdb" />
<rect x="96.31" y="354.18" width="7.72" height="100.22" fill="#c4e6f2" />
<rect x="103.98" y="352.92" width="7.72" height="101.48" fill="#86cdea" />
<rect x="111.65" y="353.90" width="7.72" height="100.50" fill="#4cb6e3" />
<rect x="119.32" y="352.92" width="7.72" height="101.48" fill="#0e9fdb" />
<rect x="139.16" y="340.40" width="7.72" height="114.00" fill="#c4e6f2" />
<rect x="146.83" y="338.22" width="7.72" height="116.18" fill="#86cdea" />
<rect x="154.50" y="339.88" width="7.72" height="114.52" fill="#4cb6e3" />
<rect x="162.17" y="338.79" width="7.72" height="115.61" fill="#0e9fdb" />
<rect x="182.01" y="326.68" width="7.72" height="127.72" fill="#c4e6f2" />
<rect x="189.68" y="323.12" width="7.72" height="131.28" fill="#86cdea" />
<rect x="197.35" y="325.53" width="7.72" height="128.87" fill="#4cb6e3" />
<rect x="205.02" y="324.21" width="7.72" height="130.19" fill="#0e9fdb" />
<rect x="224.86" y="315.02" width="7.72" height="139.38" fill="#c4e6f2" />
<rect x="232.53" y="308.41" width="7.72" height="145.99" fill="#86cdea" />
<rect x="240.20" y="314.10" width="7.72" height="140.30" fill="#4cb6e3" />
<rect x="247.87" y="309.22" width="7.72" height="145.18" fill="#0e9fdb" />
<rect x="267.71" y="299.11" width="7.72" height="155.29" fill="#c4e6f2" />
<rect x="275.38" y="294.17" width="7.72" height="160.23" fill="#86cdea" />
<rect x="283.05" y="298.48" width="7.72" height="155.92" fill="#4cb6e3" />
<rect x="290.72" y="295.09" width="7.72" height="159.31" fill="#0e9fdb" />
<rect x="310.56" y="286.99" width="7.72" height="167.41" fill="#c4e6f2" />
<rect x="318.23" y="277.11" width="7.72" height="177.29" fill="#86cdea" />
<rect x="325.90" y="286.02" width="7.72" height="168.38" fill="#4cb6e3" />
<rect x="333.57" y="277.80" width="7.72" height="176.60" fill="#0e9fdb" />
<rect x="59.90" y="257.00" width="25.10" height="12.20" fill="#c4e6f2" />
<text x="88.60" y="267.60" font-size="12.2" text-anchor="start" font-weight="normal" fill="#000" >C</text>
<text x="97.00" y="270.60" font-size="8.2" text-anchor="start" font-weight="normal" fill="#000" >1</text>
<rect x="59.90" y="273.63" width="25.10" height="12.20" fill="#86cdea" />
<text x="88.60" y="284.23" font-size="12.2" text-anchor="start" font-weight="normal" fill="#000" >C</text>
<text x="97.00" y="287.23" font-size="8.2" text-anchor="start" font-weight="normal" fill="#000" >2</text>
<rect x="59.90" y="290.26" width="25.10" height="12.20" fill="#4cb6e3" />
<text x="88.60" y="300.86" font-size="12.2" text-anchor="start" font-weight="normal" fill="#000" >C</text>
<text x="97.00" y="303.86" font-size="8.2" text-anchor="start" font-weight="normal" fill="#000" >3</text>
<rect x="59.90" y="306.89" width="25.10" height="12.20" fill="#0e9fdb" />
<text x="88.60" y="317.49" font-size="12.2" text-anchor="start" font-weight="normal" fill="#000" >C</text>
<text x="97.00" y="320.49" font-size="8.2" text-anchor="start" font-weight="normal" fill="#000" >4</text>
<polyline points="168.9,269.3 127.6,269.3 127.6,294.7 139,294.7" fill="none" stroke="#8a8a8a" stroke-width="0.9"/>
<polyline points="172.3,269.3 214.6,269.3 214.6,294.7 202.9,294.7" fill="none" stroke="#8a8a8a" stroke-width="0.9"/>
<line x1="168.90" y1="266.40" x2="168.90" y2="272.50" stroke="#8a8a8a" stroke-width="1.0" />
<line x1="172.30" y1="263.80" x2="172.30" y2="276.20" stroke="#8a8a8a" stroke-width="1.0" />
<polyline points="139.00,294.70 140.67,292.40 142.33,297.00 144.00,292.40 145.67,297.00 147.33,292.40 149.00,294.70 156.90,294.70 158.57,292.40 160.23,297.00 161.90,292.40 163.57,297.00 165.23,292.40 166.90,294.70 174.70,294.70 176.37,292.40 178.03,297.00 179.70,292.40 181.37,297.00 183.03,292.40 184.70,294.70 192.70,294.70 194.37,292.40 196.03,297.00 197.70,292.40 199.37,297.00 201.03,292.40 202.70,294.70" fill="none" stroke="#8a8a8a" stroke-width="0.9"/>
<text x="162.00" y="265.60" font-size="11.5" text-anchor="middle" font-weight="bold" fill="#000" >&#8211;</text>
<text x="180.10" y="266.40" font-size="12" text-anchor="middle" font-weight="bold" fill="#000" >+</text>
<text x="138.90" y="310.50" font-size="10.2" text-anchor="start" font-weight="normal" fill="#000" >C</text>
<text x="146.10" y="312.60" font-size="7" text-anchor="start" font-weight="normal" fill="#000" >1</text>
<text x="156.70" y="310.50" font-size="10.2" text-anchor="start" font-weight="normal" fill="#000" >C</text>
<text x="163.90" y="312.60" font-size="7" text-anchor="start" font-weight="normal" fill="#000" >2</text>
<text x="174.70" y="310.50" font-size="10.2" text-anchor="start" font-weight="normal" fill="#000" >C</text>
<text x="181.90" y="312.60" font-size="7" text-anchor="start" font-weight="normal" fill="#000" >3</text>
<text x="192.50" y="310.50" font-size="10.2" text-anchor="start" font-weight="normal" fill="#000" >C</text>
<text x="199.70" y="312.60" font-size="7" text-anchor="start" font-weight="normal" fill="#000" >4</text>
<polyline points="98,339.3 111.7,339.3 111.7,347.8" fill="none" stroke="#000" stroke-width="1.3"/>
<polygon points="91.2,339.3 101.5,335.8 99.5,339.3 101.5,342.8" fill="#000"/>
<path d="M68.80,425.77 C75.94,423.56 97.37,416.80 111.65,412.52 C125.93,408.24 140.22,406.26 154.50,400.07 C168.78,393.88 183.07,383.38 197.35,375.38 C211.63,367.39 225.92,360.49 240.20,352.10 C254.48,343.70 268.77,336.50 283.05,324.99 C297.33,313.48 318.76,290.03 325.90,283.04" fill="none" stroke="#e4565b" stroke-width="1.2" stroke-dasharray="2.6,2.2"/>
<circle cx="68.80" cy="425.77" r="4.10" fill="#f4a3a7" stroke="#e0575d" stroke-width="0.9" />
<circle cx="111.65" cy="412.52" r="4.10" fill="#f4a3a7" stroke="#e0575d" stroke-width="0.9" />
<circle cx="154.50" cy="400.07" r="4.10" fill="#f4a3a7" stroke="#e0575d" stroke-width="0.9" />
<circle cx="197.35" cy="375.38" r="4.10" fill="#f4a3a7" stroke="#e0575d" stroke-width="0.9" />
<circle cx="240.20" cy="352.10" r="4.10" fill="#f4a3a7" stroke="#e0575d" stroke-width="0.9" />
<circle cx="283.05" cy="324.99" r="4.10" fill="#f4a3a7" stroke="#e0575d" stroke-width="0.9" />
<circle cx="325.90" cy="283.04" r="4.10" fill="#f4a3a7" stroke="#e0575d" stroke-width="0.9" />
<rect x="47.3" y="253.4" width="300.4" height="200.99999999999997" fill="none" stroke="#2d2d2d" stroke-width="1.1"/>
<line x1="43.30" y1="454.40" x2="47.30" y2="454.40" stroke="#2d2d2d" stroke-width="1.1" />
<text x="40.60" y="458.70" font-size="12" text-anchor="end" font-weight="normal" fill="#000" >0.0</text>
<line x1="45.00" y1="440.04" x2="47.30" y2="440.04" stroke="#2d2d2d" stroke-width="1.1" />
<line x1="43.30" y1="425.69" x2="47.30" y2="425.69" stroke="#2d2d2d" stroke-width="1.1" />
<text x="40.60" y="429.99" font-size="12" text-anchor="end" font-weight="normal" fill="#000" >0.5</text>
<line x1="45.00" y1="411.33" x2="47.30" y2="411.33" stroke="#2d2d2d" stroke-width="1.1" />
<line x1="43.30" y1="396.97" x2="47.30" y2="396.97" stroke="#2d2d2d" stroke-width="1.1" />
<text x="40.60" y="401.27" font-size="12" text-anchor="end" font-weight="normal" fill="#000" >1.0</text>
<line x1="45.00" y1="382.61" x2="47.30" y2="382.61" stroke="#2d2d2d" stroke-width="1.1" />
<line x1="43.30" y1="368.25" x2="47.30" y2="368.25" stroke="#2d2d2d" stroke-width="1.1" />
<text x="40.60" y="372.56" font-size="12" text-anchor="end" font-weight="normal" fill="#000" >1.5</text>
<line x1="45.00" y1="353.90" x2="47.30" y2="353.90" stroke="#2d2d2d" stroke-width="1.1" />
<line x1="43.30" y1="339.54" x2="47.30" y2="339.54" stroke="#2d2d2d" stroke-width="1.1" />
<text x="40.60" y="343.84" font-size="12" text-anchor="end" font-weight="normal" fill="#000" >2.0</text>
<line x1="45.00" y1="325.18" x2="47.30" y2="325.18" stroke="#2d2d2d" stroke-width="1.1" />
<line x1="43.30" y1="310.82" x2="47.30" y2="310.82" stroke="#2d2d2d" stroke-width="1.1" />
<text x="40.60" y="315.12" font-size="12" text-anchor="end" font-weight="normal" fill="#000" >2.5</text>
<line x1="45.00" y1="296.47" x2="47.30" y2="296.47" stroke="#2d2d2d" stroke-width="1.1" />
<line x1="43.30" y1="282.11" x2="47.30" y2="282.11" stroke="#2d2d2d" stroke-width="1.1" />
<text x="40.60" y="286.41" font-size="12" text-anchor="end" font-weight="normal" fill="#000" >3.0</text>
<line x1="45.00" y1="267.75" x2="47.30" y2="267.75" stroke="#2d2d2d" stroke-width="1.1" />
<line x1="43.30" y1="253.39" x2="47.30" y2="253.39" stroke="#2d2d2d" stroke-width="1.1" />
<text x="40.60" y="257.69" font-size="12" text-anchor="end" font-weight="normal" fill="#000" >3.5</text>
<line x1="347.70" y1="433.60" x2="351.70" y2="433.60" stroke="#2d2d2d" stroke-width="1.1" />
<text x="354.50" y="437.90" font-size="12" text-anchor="start" font-weight="normal" fill="#000" >0</text>
<line x1="347.70" y1="393.45" x2="351.70" y2="393.45" stroke="#2d2d2d" stroke-width="1.1" />
<text x="354.50" y="397.75" font-size="12" text-anchor="start" font-weight="normal" fill="#000" >20</text>
<line x1="347.70" y1="353.30" x2="351.70" y2="353.30" stroke="#2d2d2d" stroke-width="1.1" />
<text x="354.50" y="357.60" font-size="12" text-anchor="start" font-weight="normal" fill="#000" >40</text>
<line x1="347.70" y1="313.15" x2="351.70" y2="313.15" stroke="#2d2d2d" stroke-width="1.1" />
<text x="354.50" y="317.45" font-size="12" text-anchor="start" font-weight="normal" fill="#000" >60</text>
<line x1="347.70" y1="273.00" x2="351.70" y2="273.00" stroke="#2d2d2d" stroke-width="1.1" />
<text x="354.50" y="277.30" font-size="12" text-anchor="start" font-weight="normal" fill="#000" >80</text>
<line x1="347.70" y1="453.68" x2="350.00" y2="453.68" stroke="#2d2d2d" stroke-width="1.1" />
<line x1="347.70" y1="413.53" x2="350.00" y2="413.53" stroke="#2d2d2d" stroke-width="1.1" />
<line x1="347.70" y1="373.38" x2="350.00" y2="373.38" stroke="#2d2d2d" stroke-width="1.1" />
<line x1="347.70" y1="333.23" x2="350.00" y2="333.23" stroke="#2d2d2d" stroke-width="1.1" />
<line x1="347.70" y1="293.08" x2="350.00" y2="293.08" stroke="#2d2d2d" stroke-width="1.1" />
<line x1="347.70" y1="252.93" x2="350.00" y2="252.93" stroke="#2d2d2d" stroke-width="1.1" />
<line x1="68.80" y1="454.40" x2="68.80" y2="458.40" stroke="#2d2d2d" stroke-width="1.1" />
<text x="68.80" y="471.30" font-size="12" text-anchor="middle" font-weight="normal" fill="#000" >6</text>
<line x1="111.65" y1="454.40" x2="111.65" y2="458.40" stroke="#2d2d2d" stroke-width="1.1" />
<text x="111.65" y="471.30" font-size="12" text-anchor="middle" font-weight="normal" fill="#000" >7</text>
<line x1="154.50" y1="454.40" x2="154.50" y2="458.40" stroke="#2d2d2d" stroke-width="1.1" />
<text x="154.50" y="471.30" font-size="12" text-anchor="middle" font-weight="normal" fill="#000" >8</text>
<line x1="197.35" y1="454.40" x2="197.35" y2="458.40" stroke="#2d2d2d" stroke-width="1.1" />
<text x="197.35" y="471.30" font-size="12" text-anchor="middle" font-weight="normal" fill="#000" >9</text>
<line x1="240.20" y1="454.40" x2="240.20" y2="458.40" stroke="#2d2d2d" stroke-width="1.1" />
<text x="240.20" y="471.30" font-size="12" text-anchor="middle" font-weight="normal" fill="#000" >10</text>
<line x1="283.05" y1="454.40" x2="283.05" y2="458.40" stroke="#2d2d2d" stroke-width="1.1" />
<text x="283.05" y="471.30" font-size="12" text-anchor="middle" font-weight="normal" fill="#000" >11</text>
<line x1="325.90" y1="454.40" x2="325.90" y2="458.40" stroke="#2d2d2d" stroke-width="1.1" />
<text x="325.90" y="471.30" font-size="12" text-anchor="middle" font-weight="normal" fill="#000" >12</text>
<line x1="47.38" y1="454.40" x2="47.38" y2="456.70" stroke="#2d2d2d" stroke-width="1.1" />
<line x1="90.22" y1="454.40" x2="90.22" y2="456.70" stroke="#2d2d2d" stroke-width="1.1" />
<line x1="133.07" y1="454.40" x2="133.07" y2="456.70" stroke="#2d2d2d" stroke-width="1.1" />
<line x1="175.93" y1="454.40" x2="175.93" y2="456.70" stroke="#2d2d2d" stroke-width="1.1" />
<line x1="218.77" y1="454.40" x2="218.77" y2="456.70" stroke="#2d2d2d" stroke-width="1.1" />
<line x1="261.62" y1="454.40" x2="261.62" y2="456.70" stroke="#2d2d2d" stroke-width="1.1" />
<line x1="304.48" y1="454.40" x2="304.48" y2="456.70" stroke="#2d2d2d" stroke-width="1.1" />
<line x1="347.33" y1="454.40" x2="347.33" y2="456.70" stroke="#2d2d2d" stroke-width="1.1" />
<text x="197.6" y="492.2" font-size="13.4" text-anchor="middle">E<tspan font-size="10" dy="3">stack</tspan><tspan dy="-3"> (V)</tspan></text>
<text transform="translate(17.7,354) rotate(-90)" font-size="13.4" text-anchor="middle">Voltage (V)</text>
<text transform="translate(382.1,354) rotate(-90)" font-size="13.4" text-anchor="middle">Total electrolysis current (A)</text>
<rect x="446.30" y="271.14" width="16.40" height="184.36" fill="#56b3e8" />
<rect x="475.05" y="271.97" width="16.40" height="183.53" fill="#56b3e8" />
<rect x="503.80" y="274.19" width="16.40" height="181.31" fill="#56b3e8" />
<rect x="532.55" y="279.35" width="16.40" height="176.15" fill="#56b3e8" />
<rect x="561.30" y="284.33" width="16.40" height="171.17" fill="#56b3e8" />
<rect x="590.05" y="290.05" width="16.40" height="165.45" fill="#56b3e8" />
<rect x="618.80" y="295.77" width="16.40" height="159.73" fill="#56b3e8" />
<rect x="440.1" y="252.6" width="201.5" height="202.9" fill="none" stroke="#2d2d2d" stroke-width="1.1"/>
<line x1="436.10" y1="455.50" x2="440.10" y2="455.50" stroke="#2d2d2d" stroke-width="1.1" />
<text x="431.80" y="459.80" font-size="12" text-anchor="end" font-weight="normal" fill="#000" >0</text>
<line x1="436.10" y1="418.61" x2="440.10" y2="418.61" stroke="#2d2d2d" stroke-width="1.1" />
<text x="431.80" y="422.91" font-size="12" text-anchor="end" font-weight="normal" fill="#000" >20</text>
<line x1="436.10" y1="381.72" x2="440.10" y2="381.72" stroke="#2d2d2d" stroke-width="1.1" />
<text x="431.80" y="386.02" font-size="12" text-anchor="end" font-weight="normal" fill="#000" >40</text>
<line x1="436.10" y1="344.83" x2="440.10" y2="344.83" stroke="#2d2d2d" stroke-width="1.1" />
<text x="431.80" y="349.13" font-size="12" text-anchor="end" font-weight="normal" fill="#000" >60</text>
<line x1="436.10" y1="307.94" x2="440.10" y2="307.94" stroke="#2d2d2d" stroke-width="1.1" />
<text x="431.80" y="312.24" font-size="12" text-anchor="end" font-weight="normal" fill="#000" >80</text>
<line x1="436.10" y1="271.05" x2="440.10" y2="271.05" stroke="#2d2d2d" stroke-width="1.1" />
<text x="431.80" y="275.35" font-size="12" text-anchor="end" font-weight="normal" fill="#000" >100</text>
<line x1="437.80" y1="437.06" x2="440.10" y2="437.06" stroke="#2d2d2d" stroke-width="1.1" />
<line x1="437.80" y1="400.17" x2="440.10" y2="400.17" stroke="#2d2d2d" stroke-width="1.1" />
<line x1="437.80" y1="363.27" x2="440.10" y2="363.27" stroke="#2d2d2d" stroke-width="1.1" />
<line x1="437.80" y1="326.38" x2="440.10" y2="326.38" stroke="#2d2d2d" stroke-width="1.1" />
<line x1="437.80" y1="289.50" x2="440.10" y2="289.50" stroke="#2d2d2d" stroke-width="1.1" />
<line x1="437.80" y1="252.60" x2="440.10" y2="252.60" stroke="#2d2d2d" stroke-width="1.1" />
<line x1="454.50" y1="455.50" x2="454.50" y2="459.50" stroke="#2d2d2d" stroke-width="1.1" />
<text x="454.50" y="472.40" font-size="12" text-anchor="middle" font-weight="normal" fill="#000" >6</text>
<line x1="468.88" y1="455.50" x2="468.88" y2="457.80" stroke="#2d2d2d" stroke-width="1.1" />
<line x1="483.25" y1="455.50" x2="483.25" y2="459.50" stroke="#2d2d2d" stroke-width="1.1" />
<text x="483.25" y="472.40" font-size="12" text-anchor="middle" font-weight="normal" fill="#000" >7</text>
<line x1="497.62" y1="455.50" x2="497.62" y2="457.80" stroke="#2d2d2d" stroke-width="1.1" />
<line x1="512.00" y1="455.50" x2="512.00" y2="459.50" stroke="#2d2d2d" stroke-width="1.1" />
<text x="512.00" y="472.40" font-size="12" text-anchor="middle" font-weight="normal" fill="#000" >8</text>
<line x1="526.38" y1="455.50" x2="526.38" y2="457.80" stroke="#2d2d2d" stroke-width="1.1" />
<line x1="540.75" y1="455.50" x2="540.75" y2="459.50" stroke="#2d2d2d" stroke-width="1.1" />
<text x="540.75" y="472.40" font-size="12" text-anchor="middle" font-weight="normal" fill="#000" >9</text>
<line x1="555.12" y1="455.50" x2="555.12" y2="457.80" stroke="#2d2d2d" stroke-width="1.1" />
<line x1="569.50" y1="455.50" x2="569.50" y2="459.50" stroke="#2d2d2d" stroke-width="1.1" />
<text x="569.50" y="472.40" font-size="12" text-anchor="middle" font-weight="normal" fill="#000" >10</text>
<line x1="583.88" y1="455.50" x2="583.88" y2="457.80" stroke="#2d2d2d" stroke-width="1.1" />
<line x1="598.25" y1="455.50" x2="598.25" y2="459.50" stroke="#2d2d2d" stroke-width="1.1" />
<text x="598.25" y="472.40" font-size="12" text-anchor="middle" font-weight="normal" fill="#000" >11</text>
<line x1="612.62" y1="455.50" x2="612.62" y2="457.80" stroke="#2d2d2d" stroke-width="1.1" />
<line x1="627.00" y1="455.50" x2="627.00" y2="459.50" stroke="#2d2d2d" stroke-width="1.1" />
<text x="627.00" y="472.40" font-size="12" text-anchor="middle" font-weight="normal" fill="#000" >12</text>
<line x1="641.38" y1="455.50" x2="641.38" y2="457.80" stroke="#2d2d2d" stroke-width="1.1" />
<line x1="440.10" y1="455.50" x2="440.10" y2="457.80" stroke="#2d2d2d" stroke-width="1.1" />
<text x="540.9" y="492.9" font-size="13.4" text-anchor="middle">E<tspan font-size="10" dy="3">stack</tspan><tspan dy="-3"> (V)</tspan></text>
<text transform="translate(409.1,353.6) rotate(-90)" font-size="13.6" text-anchor="middle">NH<tspan font-size="9.4" dy="3.8">3</tspan><tspan dy="-3.8"> FE (%)</tspan></text>
<line x1="121.90" y1="507.50" x2="121.90" y2="707.50" stroke="#222" stroke-width="1.0" stroke-dasharray="2.3,1.3" stroke-dashoffset="0.85"/>
<line x1="196.00" y1="507.50" x2="196.00" y2="707.50" stroke="#222" stroke-width="1.0" stroke-dasharray="2.3,1.3" stroke-dashoffset="0.85"/>
<line x1="270.50" y1="507.50" x2="270.50" y2="707.50" stroke="#222" stroke-width="1.0" stroke-dasharray="2.3,1.3" stroke-dashoffset="0.85"/>
<line x1="344.50" y1="507.50" x2="344.50" y2="707.50" stroke="#222" stroke-width="1.0" stroke-dasharray="2.3,1.3" stroke-dashoffset="0.85"/>
<line x1="418.50" y1="507.50" x2="418.50" y2="707.50" stroke="#222" stroke-width="1.0" stroke-dasharray="2.3,1.3" stroke-dashoffset="0.85"/>
<line x1="492.50" y1="507.50" x2="492.50" y2="707.50" stroke="#222" stroke-width="1.0" stroke-dasharray="2.3,1.3" stroke-dashoffset="0.85"/>
<line x1="566.50" y1="507.50" x2="566.50" y2="707.50" stroke="#222" stroke-width="1.0" stroke-dasharray="2.3,1.3" stroke-dashoffset="0.85"/>
<rect x="64.80" y="553.60" width="111.40" height="24.60" fill="#efefef" />
<text x="70.40" y="570.90" font-size="12.3" text-anchor="start" font-weight="normal" fill="#000" >Electrolyte refresh</text>
<path d="M88.6,582.8 C89.5,597 99,607 109.5,611.3" fill="none" stroke="#000" stroke-width="1.3"/>
<polygon points="116.6,615.2 106.8,614.6 110.6,608.0" fill="#000"/>
<defs><clipPath id="ecl"><rect x="47.5" y="507.5" width="593.2" height="200.0"/></clipPath></defs>
<g clip-path="url(#ecl)">
<polyline points="48.00,613.70 52.00,615.20 56.70,616.60 61.40,618.80 65.00,619.30 68.40,620.10 70.50,622.50 71.90,625.40 74.00,627.50 76.50,629.50 85.00,633.50 94.00,637.00 108.00,641.50 121.50,645.20" fill="none" stroke="#56b1e6" stroke-width="4.0" stroke-linejoin="round" stroke-linecap="round"/>
<polyline points="121.80,618.60 124.00,620.80 126.20,622.30 130.00,624.30 133.60,626.00 142.00,628.80 152.20,631.60 161.00,634.50 170.80,637.20 183.00,640.40 195.60,643.40" fill="none" stroke="#56b1e6" stroke-width="4.2" stroke-linejoin="round" stroke-linecap="round"/>
<polyline points="196.00,617.00 200.00,618.80 208.60,621.70 218.00,625.20 227.20,628.50 236.00,631.80 245.80,635.30 257.00,639.80 269.40,644.00" fill="none" stroke="#56b1e6" stroke-width="4.3" stroke-linejoin="round" stroke-linecap="round"/>
<polyline points="270.00,621.70 277.40,623.50 284.00,624.20 289.80,624.80 293.00,626.20 296.00,627.60 299.00,626.80 302.20,626.40 306.00,625.00 309.70,623.50 315.20,621.90 319.00,623.30 323.30,625.40 326.50,627.50 328.90,629.70 330.50,633.00 332.00,637.00 334.50,641.00 337.00,644.30 341.00,645.50 344.00,646.80" fill="none" stroke="#56b1e6" stroke-width="5.4" stroke-linejoin="round" stroke-linecap="round"/>
<circle cx="270.88" cy="622.14" r="1.84" fill="#56b1e6" stroke="none" stroke-width="0.8" />
<circle cx="276.02" cy="620.90" r="2.05" fill="#56b1e6" stroke="none" stroke-width="0.8" />
<circle cx="282.25" cy="625.76" r="1.88" fill="#56b1e6" stroke="none" stroke-width="0.8" />
<circle cx="290.00" cy="626.23" r="1.57" fill="#56b1e6" stroke="none" stroke-width="0.8" />
<circle cx="293.09" cy="628.14" r="1.95" fill="#56b1e6" stroke="none" stroke-width="0.8" />
<circle cx="300.26" cy="628.21" r="2.14" fill="#56b1e6" stroke="none" stroke-width="0.8" />
<circle cx="305.54" cy="623.08" r="1.50" fill="#56b1e6" stroke="none" stroke-width="0.8" />
<circle cx="310.53" cy="623.30" r="1.62" fill="#56b1e6" stroke="none" stroke-width="0.8" />
<circle cx="323.26" cy="626.27" r="2.07" fill="#56b1e6" stroke="none" stroke-width="0.8" />
<circle cx="326.39" cy="629.53" r="1.94" fill="#56b1e6" stroke="none" stroke-width="0.8" />
<circle cx="327.01" cy="629.69" r="1.56" fill="#56b1e6" stroke="none" stroke-width="0.8" />
<circle cx="330.63" cy="634.92" r="1.44" fill="#56b1e6" stroke="none" stroke-width="0.8" />
<circle cx="334.61" cy="641.74" r="1.95" fill="#56b1e6" stroke="none" stroke-width="0.8" />
<circle cx="342.52" cy="648.75" r="1.37" fill="#56b1e6" stroke="none" stroke-width="0.8" />
<polyline points="344.30,609.20 344.40,613.60 346.50,615.20 349.90,616.60 354.00,618.80 358.60,621.10 365.00,623.80 371.00,626.00 377.00,628.60 383.40,630.80 389.00,631.80 395.80,632.80 402.00,634.50 408.20,636.40 413.50,638.60 418.60,641.30" fill="none" stroke="#56b1e6" stroke-width="6.2" stroke-linejoin="round" stroke-linecap="round"/>
<circle cx="344.36" cy="609.40" r="1.67" fill="#56b1e6" stroke="none" stroke-width="0.8" />
<circle cx="345.68" cy="612.79" r="2.08" fill="#56b1e6" stroke="none" stroke-width="0.8" />
<circle cx="351.45" cy="617.23" r="1.88" fill="#56b1e6" stroke="none" stroke-width="0.8" />
<circle cx="361.61" cy="622.41" r="1.95" fill="#56b1e6" stroke="none" stroke-width="0.8" />
<circle cx="366.56" cy="624.63" r="1.67" fill="#56b1e6" stroke="none" stroke-width="0.8" />
<circle cx="375.40" cy="628.84" r="1.94" fill="#56b1e6" stroke="none" stroke-width="0.8" />
<circle cx="379.36" cy="626.93" r="1.91" fill="#56b1e6" stroke="none" stroke-width="0.8" />
<circle cx="383.28" cy="629.47" r="1.83" fill="#56b1e6" stroke="none" stroke-width="0.8" />
<circle cx="384.30" cy="630.25" r="1.63" fill="#56b1e6" stroke="none" stroke-width="0.8" />
<circle cx="387.87" cy="630.56" r="2.00" fill="#56b1e6" stroke="none" stroke-width="0.8" />
<circle cx="396.54" cy="631.38" r="1.93" fill="#56b1e6" stroke="none" stroke-width="0.8" />
<circle cx="399.22" cy="632.81" r="2.05" fill="#56b1e6" stroke="none" stroke-width="0.8" />
<circle cx="403.36" cy="636.77" r="1.60" fill="#56b1e6" stroke="none" stroke-width="0.8" />
<circle cx="407.12" cy="638.07" r="1.50" fill="#56b1e6" stroke="none" stroke-width="0.8" />
<circle cx="408.52" cy="636.69" r="2.03" fill="#56b1e6" stroke="none" stroke-width="0.8" />
<circle cx="413.07" cy="636.78" r="2.03" fill="#56b1e6" stroke="none" stroke-width="0.8" />
<circle cx="415.14" cy="641.06" r="1.42" fill="#56b1e6" stroke="none" stroke-width="0.8" />
<circle cx="416.79" cy="641.87" r="1.61" fill="#56b1e6" stroke="none" stroke-width="0.8" />
<polyline points="418.20,612.80 420.00,610.20 421.80,608.40 424.00,610.80 426.80,612.80 430.00,615.80 433.60,619.00 436.60,621.60 439.80,624.00 444.60,627.00 449.70,629.60 454.60,632.20 459.70,634.60 465.00,636.60 470.80,638.30 475.80,640.00 480.80,641.40 486.00,642.40 492.30,642.60" fill="none" stroke="#56b1e6" stroke-width="6.0" stroke-linejoin="round" stroke-linecap="round"/>
<circle cx="418.95" cy="611.30" r="2.13" fill="#56b1e6" stroke="none" stroke-width="0.8" />
<circle cx="423.74" cy="613.04" r="2.16" fill="#56b1e6" stroke="none" stroke-width="0.8" />
<circle cx="429.48" cy="616.16" r="1.56" fill="#56b1e6" stroke="none" stroke-width="0.8" />
<circle cx="431.23" cy="615.47" r="1.83" fill="#56b1e6" stroke="none" stroke-width="0.8" />
<circle cx="434.46" cy="621.36" r="2.11" fill="#56b1e6" stroke="none" stroke-width="0.8" />
<circle cx="444.12" cy="627.10" r="1.97" fill="#56b1e6" stroke="none" stroke-width="0.8" />
<circle cx="452.70" cy="630.37" r="2.08" fill="#56b1e6" stroke="none" stroke-width="0.8" />
<circle cx="455.82" cy="634.24" r="1.48" fill="#56b1e6" stroke="none" stroke-width="0.8" />
<circle cx="458.51" cy="635.69" r="2.01" fill="#56b1e6" stroke="none" stroke-width="0.8" />
<circle cx="465.14" cy="635.45" r="1.77" fill="#56b1e6" stroke="none" stroke-width="0.8" />
<circle cx="470.80" cy="635.99" r="1.41" fill="#56b1e6" stroke="none" stroke-width="0.8" />
<circle cx="476.02" cy="640.07" r="1.58" fill="#56b1e6" stroke="none" stroke-width="0.8" />
<circle cx="479.18" cy="641.71" r="1.62" fill="#56b1e6" stroke="none" stroke-width="0.8" />
<circle cx="481.30" cy="640.61" r="1.80" fill="#56b1e6" stroke="none" stroke-width="0.8" />
<circle cx="485.26" cy="641.64" r="1.46" fill="#56b1e6" stroke="none" stroke-width="0.8" />
<polyline points="492.30,610.00 492.50,615.50 494.30,617.20 496.70,618.20 501.00,619.00 505.40,620.00 509.60,622.60 514.00,625.40 519.00,628.60 524.00,631.20 529.50,630.60 535.00,628.80 536.40,633.30 542.60,632.80 549.50,634.80 556.00,636.60 557.80,640.30 562.00,640.50 566.60,640.40" fill="none" stroke="#56b1e6" stroke-width="6.0" stroke-linejoin="round" stroke-linecap="round"/>
<circle cx="492.39" cy="611.71" r="1.93" fill="#56b1e6" stroke="none" stroke-width="0.8" />
<circle cx="493.26" cy="617.22" r="1.52" fill="#56b1e6" stroke="none" stroke-width="0.8" />
<circle cx="495.59" cy="618.75" r="1.68" fill="#56b1e6" stroke="none" stroke-width="0.8" />
<circle cx="506.50" cy="620.50" r="2.03" fill="#56b1e6" stroke="none" stroke-width="0.8" />
<circle cx="515.67" cy="627.68" r="1.39" fill="#56b1e6" stroke="none" stroke-width="0.8" />
<circle cx="517.97" cy="625.37" r="2.00" fill="#56b1e6" stroke="none" stroke-width="0.8" />
<circle cx="519.11" cy="626.53" r="2.09" fill="#56b1e6" stroke="none" stroke-width="0.8" />
<circle cx="529.05" cy="633.00" r="2.02" fill="#56b1e6" stroke="none" stroke-width="0.8" />
<circle cx="529.60" cy="631.96" r="1.94" fill="#56b1e6" stroke="none" stroke-width="0.8" />
<circle cx="535.09" cy="628.16" r="2.05" fill="#56b1e6" stroke="none" stroke-width="0.8" />
<circle cx="537.15" cy="631.57" r="1.85" fill="#56b1e6" stroke="none" stroke-width="0.8" />
<circle cx="541.84" cy="632.31" r="1.66" fill="#56b1e6" stroke="none" stroke-width="0.8" />
<circle cx="543.81" cy="632.73" r="1.75" fill="#56b1e6" stroke="none" stroke-width="0.8" />
<circle cx="554.94" cy="636.40" r="1.88" fill="#56b1e6" stroke="none" stroke-width="0.8" />
<circle cx="557.62" cy="638.10" r="1.97" fill="#56b1e6" stroke="none" stroke-width="0.8" />
<circle cx="561.65" cy="640.57" r="1.95" fill="#56b1e6" stroke="none" stroke-width="0.8" />
<circle cx="562.86" cy="639.27" r="1.83" fill="#56b1e6" stroke="none" stroke-width="0.8" />
<polyline points="566.80,618.60 569.00,620.90 572.40,622.90 578.00,626.20 584.80,629.10 594.00,632.60 603.40,635.90 612.60,639.10 622.00,642.10 631.00,644.90 639.60,647.60" fill="none" stroke="#56b1e6" stroke-width="4.4" stroke-linejoin="round" stroke-linecap="round"/>
<circle cx="48.00" cy="607.80" r="2.40" fill="#56b1e6" stroke="none" stroke-width="0.8" />
<circle cx="121.80" cy="612.30" r="2.40" fill="#56b1e6" stroke="none" stroke-width="0.8" />
<circle cx="196.00" cy="613.00" r="2.40" fill="#56b1e6" stroke="none" stroke-width="0.8" />
<circle cx="566.80" cy="613.00" r="2.40" fill="#56b1e6" stroke="none" stroke-width="0.8" />
<ellipse cx="556.6" cy="632.4" rx="1.8" ry="3.6" fill="#56b1e6"/>
<circle cx="62.33" cy="526.24" r="3.55" fill="#f4a3a7" stroke="#e0575d" stroke-width="0.8" />
<circle cx="77.16" cy="528.14" r="3.55" fill="#f4a3a7" stroke="#e0575d" stroke-width="0.8" />
<circle cx="91.99" cy="531.37" r="3.55" fill="#f4a3a7" stroke="#e0575d" stroke-width="0.8" />
<circle cx="121.65" cy="537.64" r="3.55" fill="#f4a3a7" stroke="#e0575d" stroke-width="0.8" />
<circle cx="136.48" cy="524.53" r="3.55" fill="#f4a3a7" stroke="#e0575d" stroke-width="0.8" />
<circle cx="151.31" cy="527.19" r="3.55" fill="#f4a3a7" stroke="#e0575d" stroke-width="0.8" />
<circle cx="166.14" cy="529.28" r="3.55" fill="#f4a3a7" stroke="#e0575d" stroke-width="0.8" />
<circle cx="195.80" cy="537.45" r="3.55" fill="#f4a3a7" stroke="#e0575d" stroke-width="0.8" />
<circle cx="210.63" cy="525.67" r="3.55" fill="#f4a3a7" stroke="#e0575d" stroke-width="0.8" />
<circle cx="225.46" cy="528.52" r="3.55" fill="#f4a3a7" stroke="#e0575d" stroke-width="0.8" />
<circle cx="240.29" cy="533.65" r="3.55" fill="#f4a3a7" stroke="#e0575d" stroke-width="0.8" />
<circle cx="269.95" cy="534.60" r="3.55" fill="#f4a3a7" stroke="#e0575d" stroke-width="0.8" />
<circle cx="284.78" cy="527.76" r="3.55" fill="#f4a3a7" stroke="#e0575d" stroke-width="0.8" />
<circle cx="299.61" cy="526.43" r="3.55" fill="#f4a3a7" stroke="#e0575d" stroke-width="0.8" />
<circle cx="314.44" cy="534.60" r="3.55" fill="#f4a3a7" stroke="#e0575d" stroke-width="0.8" />
<circle cx="344.10" cy="538.97" r="3.55" fill="#f4a3a7" stroke="#e0575d" stroke-width="0.8" />
<circle cx="358.93" cy="524.34" r="3.55" fill="#f4a3a7" stroke="#e0575d" stroke-width="0.8" />
<circle cx="373.76" cy="529.28" r="3.55" fill="#f4a3a7" stroke="#e0575d" stroke-width="0.8" />
<circle cx="388.59" cy="527.95" r="3.55" fill="#f4a3a7" stroke="#e0575d" stroke-width="0.8" />
<circle cx="418.25" cy="531.37" r="3.55" fill="#f4a3a7" stroke="#e0575d" stroke-width="0.8" />
<circle cx="433.08" cy="528.33" r="3.55" fill="#f4a3a7" stroke="#e0575d" stroke-width="0.8" />
<circle cx="447.91" cy="533.08" r="3.55" fill="#f4a3a7" stroke="#e0575d" stroke-width="0.8" />
<circle cx="462.74" cy="528.33" r="3.55" fill="#f4a3a7" stroke="#e0575d" stroke-width="0.8" />
<circle cx="492.40" cy="531.37" r="3.55" fill="#f4a3a7" stroke="#e0575d" stroke-width="0.8" />
<circle cx="507.23" cy="528.14" r="3.55" fill="#f4a3a7" stroke="#e0575d" stroke-width="0.8" />
<circle cx="522.06" cy="530.04" r="3.55" fill="#f4a3a7" stroke="#e0575d" stroke-width="0.8" />
<circle cx="536.89" cy="533.46" r="3.55" fill="#f4a3a7" stroke="#e0575d" stroke-width="0.8" />
<circle cx="566.55" cy="541.06" r="3.55" fill="#f4a3a7" stroke="#e0575d" stroke-width="0.8" />
<circle cx="581.38" cy="525.67" r="3.55" fill="#f4a3a7" stroke="#e0575d" stroke-width="0.8" />
<circle cx="596.21" cy="530.04" r="3.55" fill="#f4a3a7" stroke="#e0575d" stroke-width="0.8" />
<circle cx="611.04" cy="537.83" r="3.55" fill="#f4a3a7" stroke="#e0575d" stroke-width="0.8" />
<circle cx="640.70" cy="540.68" r="3.55" fill="#f4a3a7" stroke="#e0575d" stroke-width="0.8" />
</g>
<polyline points="452.6,548.2 452.6,555.2 466,555.2" fill="none" stroke="#000" stroke-width="1.3"/>
<polygon points="473.4,555.2 463.5,551.8 465.3,555.2 463.5,558.6" fill="#000"/>
<text x="53.3" y="696.6" font-size="12.2">E<tspan font-size="7.4" dy="2.4">stack</tspan><tspan dy="-2.4"> = 9 V</tspan></text>
<rect x="47.5" y="507.5" width="593.2" height="200.0" fill="none" stroke="#2d2d2d" stroke-width="1.1"/>
<line x1="44.20" y1="707.50" x2="47.50" y2="707.50" stroke="#2d2d2d" stroke-width="1.1" />
<text x="40.80" y="711.80" font-size="12" text-anchor="end" font-weight="normal" fill="#000" >0</text>
<line x1="45.60" y1="695.00" x2="47.50" y2="695.00" stroke="#2d2d2d" stroke-width="1.1" />
<line x1="44.20" y1="682.50" x2="47.50" y2="682.50" stroke="#2d2d2d" stroke-width="1.1" />
<text x="40.80" y="686.80" font-size="12" text-anchor="end" font-weight="normal" fill="#000" >10</text>
<line x1="45.60" y1="670.00" x2="47.50" y2="670.00" stroke="#2d2d2d" stroke-width="1.1" />
<line x1="44.20" y1="657.50" x2="47.50" y2="657.50" stroke="#2d2d2d" stroke-width="1.1" />
<text x="40.80" y="661.80" font-size="12" text-anchor="end" font-weight="normal" fill="#000" >20</text>
<line x1="45.60" y1="645.00" x2="47.50" y2="645.00" stroke="#2d2d2d" stroke-width="1.1" />
<line x1="44.20" y1="632.50" x2="47.50" y2="632.50" stroke="#2d2d2d" stroke-width="1.1" />
<text x="40.80" y="636.80" font-size="12" text-anchor="end" font-weight="normal" fill="#000" >30</text>
<line x1="45.60" y1="620.00" x2="47.50" y2="620.00" stroke="#2d2d2d" stroke-width="1.1" />
<line x1="44.20" y1="607.50" x2="47.50" y2="607.50" stroke="#2d2d2d" stroke-width="1.1" />
<text x="40.80" y="611.80" font-size="12" text-anchor="end" font-weight="normal" fill="#000" >40</text>
<line x1="45.60" y1="595.00" x2="47.50" y2="595.00" stroke="#2d2d2d" stroke-width="1.1" />
<line x1="44.20" y1="582.50" x2="47.50" y2="582.50" stroke="#2d2d2d" stroke-width="1.1" />
<text x="40.80" y="586.80" font-size="12" text-anchor="end" font-weight="normal" fill="#000" >50</text>
<line x1="45.60" y1="570.00" x2="47.50" y2="570.00" stroke="#2d2d2d" stroke-width="1.1" />
<line x1="44.20" y1="557.50" x2="47.50" y2="557.50" stroke="#2d2d2d" stroke-width="1.1" />
<text x="40.80" y="561.80" font-size="12" text-anchor="end" font-weight="normal" fill="#000" >60</text>
<line x1="45.60" y1="545.00" x2="47.50" y2="545.00" stroke="#2d2d2d" stroke-width="1.1" />
<line x1="44.20" y1="532.50" x2="47.50" y2="532.50" stroke="#2d2d2d" stroke-width="1.1" />
<text x="40.80" y="536.80" font-size="12" text-anchor="end" font-weight="normal" fill="#000" >70</text>
<line x1="45.60" y1="520.00" x2="47.50" y2="520.00" stroke="#2d2d2d" stroke-width="1.1" />
<line x1="44.20" y1="507.50" x2="47.50" y2="507.50" stroke="#2d2d2d" stroke-width="1.1" />
<text x="40.80" y="511.80" font-size="12" text-anchor="end" font-weight="normal" fill="#000" >80</text>
<line x1="640.70" y1="707.50" x2="644.00" y2="707.50" stroke="#2d2d2d" stroke-width="1.1" />
<text x="647.00" y="711.10" font-size="12" text-anchor="start" font-weight="normal" fill="#000" >0</text>
<line x1="640.70" y1="688.50" x2="642.60" y2="688.50" stroke="#2d2d2d" stroke-width="1.1" />
<line x1="640.70" y1="669.50" x2="644.00" y2="669.50" stroke="#2d2d2d" stroke-width="1.1" />
<text x="647.00" y="673.10" font-size="12" text-anchor="start" font-weight="normal" fill="#000" >20</text>
<line x1="640.70" y1="650.50" x2="642.60" y2="650.50" stroke="#2d2d2d" stroke-width="1.1" />
<line x1="640.70" y1="631.50" x2="644.00" y2="631.50" stroke="#2d2d2d" stroke-width="1.1" />
<text x="647.00" y="635.10" font-size="12" text-anchor="start" font-weight="normal" fill="#000" >40</text>
<line x1="640.70" y1="612.50" x2="642.60" y2="612.50" stroke="#2d2d2d" stroke-width="1.1" />
<line x1="640.70" y1="593.50" x2="644.00" y2="593.50" stroke="#2d2d2d" stroke-width="1.1" />
<text x="647.00" y="597.10" font-size="12" text-anchor="start" font-weight="normal" fill="#000" >60</text>
<line x1="640.70" y1="574.50" x2="642.60" y2="574.50" stroke="#2d2d2d" stroke-width="1.1" />
<line x1="640.70" y1="555.50" x2="644.00" y2="555.50" stroke="#2d2d2d" stroke-width="1.1" />
<text x="647.00" y="559.10" font-size="12" text-anchor="start" font-weight="normal" fill="#000" >80</text>
<line x1="640.70" y1="536.50" x2="642.60" y2="536.50" stroke="#2d2d2d" stroke-width="1.1" />
<line x1="640.70" y1="517.50" x2="644.00" y2="517.50" stroke="#2d2d2d" stroke-width="1.1" />
<text x="647.00" y="521.10" font-size="12" text-anchor="start" font-weight="normal" fill="#000" >100</text>
<line x1="47.50" y1="707.50" x2="47.50" y2="710.70" stroke="#2d2d2d" stroke-width="1.1" />
<text x="47.50" y="722.40" font-size="12" text-anchor="middle" font-weight="normal" fill="#000" >0</text>
<line x1="77.16" y1="707.50" x2="77.16" y2="709.40" stroke="#2d2d2d" stroke-width="1.1" />
<line x1="106.82" y1="707.50" x2="106.82" y2="710.70" stroke="#2d2d2d" stroke-width="1.1" />
<text x="106.82" y="722.40" font-size="12" text-anchor="middle" font-weight="normal" fill="#000" >20</text>
<line x1="136.48" y1="707.50" x2="136.48" y2="709.40" stroke="#2d2d2d" stroke-width="1.1" />
<line x1="166.14" y1="707.50" x2="166.14" y2="710.70" stroke="#2d2d2d" stroke-width="1.1" />
<text x="166.14" y="722.40" font-size="12" text-anchor="middle" font-weight="normal" fill="#000" >40</text>
<line x1="195.80" y1="707.50" x2="195.80" y2="709.40" stroke="#2d2d2d" stroke-width="1.1" />
<line x1="225.46" y1="707.50" x2="225.46" y2="710.70" stroke="#2d2d2d" stroke-width="1.1" />
<text x="225.46" y="722.40" font-size="12" text-anchor="middle" font-weight="normal" fill="#000" >60</text>
<line x1="255.12" y1="707.50" x2="255.12" y2="709.40" stroke="#2d2d2d" stroke-width="1.1" />
<line x1="284.78" y1="707.50" x2="284.78" y2="710.70" stroke="#2d2d2d" stroke-width="1.1" />
<text x="284.78" y="722.40" font-size="12" text-anchor="middle" font-weight="normal" fill="#000" >80</text>
<line x1="314.44" y1="707.50" x2="314.44" y2="709.40" stroke="#2d2d2d" stroke-width="1.1" />
<line x1="344.10" y1="707.50" x2="344.10" y2="710.70" stroke="#2d2d2d" stroke-width="1.1" />
<text x="344.10" y="722.40" font-size="12" text-anchor="middle" font-weight="normal" fill="#000" >100</text>
<line x1="373.76" y1="707.50" x2="373.76" y2="709.40" stroke="#2d2d2d" stroke-width="1.1" />
<line x1="403.42" y1="707.50" x2="403.42" y2="710.70" stroke="#2d2d2d" stroke-width="1.1" />
<text x="403.42" y="722.40" font-size="12" text-anchor="middle" font-weight="normal" fill="#000" >120</text>
<line x1="433.08" y1="707.50" x2="433.08" y2="709.40" stroke="#2d2d2d" stroke-width="1.1" />
<line x1="462.74" y1="707.50" x2="462.74" y2="710.70" stroke="#2d2d2d" stroke-width="1.1" />
<text x="462.74" y="722.40" font-size="12" text-anchor="middle" font-weight="normal" fill="#000" >140</text>
<line x1="492.40" y1="707.50" x2="492.40" y2="709.40" stroke="#2d2d2d" stroke-width="1.1" />
<line x1="522.06" y1="707.50" x2="522.06" y2="710.70" stroke="#2d2d2d" stroke-width="1.1" />
<text x="522.06" y="722.40" font-size="12" text-anchor="middle" font-weight="normal" fill="#000" >160</text>
<line x1="551.72" y1="707.50" x2="551.72" y2="709.40" stroke="#2d2d2d" stroke-width="1.1" />
<line x1="581.38" y1="707.50" x2="581.38" y2="710.70" stroke="#2d2d2d" stroke-width="1.1" />
<text x="581.38" y="722.40" font-size="12" text-anchor="middle" font-weight="normal" fill="#000" >180</text>
<line x1="611.04" y1="707.50" x2="611.04" y2="709.40" stroke="#2d2d2d" stroke-width="1.1" />
<line x1="640.70" y1="707.50" x2="640.70" y2="710.70" stroke="#2d2d2d" stroke-width="1.1" />
<text x="640.70" y="722.40" font-size="12" text-anchor="middle" font-weight="normal" fill="#000" >200</text>
<text x="344.40" y="743.10" font-size="14" text-anchor="middle" font-weight="normal" fill="#000" >Time (h)</text>
<text transform="translate(19.9,607.4) rotate(-90)" font-size="14" text-anchor="middle">Total electrolysis current (A)</text>
<text transform="translate(680.8,607.2) rotate(-90)" font-size="14" text-anchor="middle">NH<tspan font-size="9.6" dy="3.9">3</tspan><tspan dy="-3.9"> FE (%)</tspan></text>
<text x="-0.60" y="15.60" font-size="22" text-anchor="start" font-weight="bold" fill="#000" >a</text>
<text x="406.00" y="15.60" font-size="22" text-anchor="start" font-weight="bold" fill="#000" >b</text>
<text x="-0.40" y="251.00" font-size="22" text-anchor="start" font-weight="bold" fill="#000" >c</text>
<text x="405.80" y="251.00" font-size="22" text-anchor="start" font-weight="bold" fill="#000" >d</text>
<text x="-0.40" y="505.00" font-size="22" text-anchor="start" font-weight="bold" fill="#000" >e</text>
</svg></body></html>
